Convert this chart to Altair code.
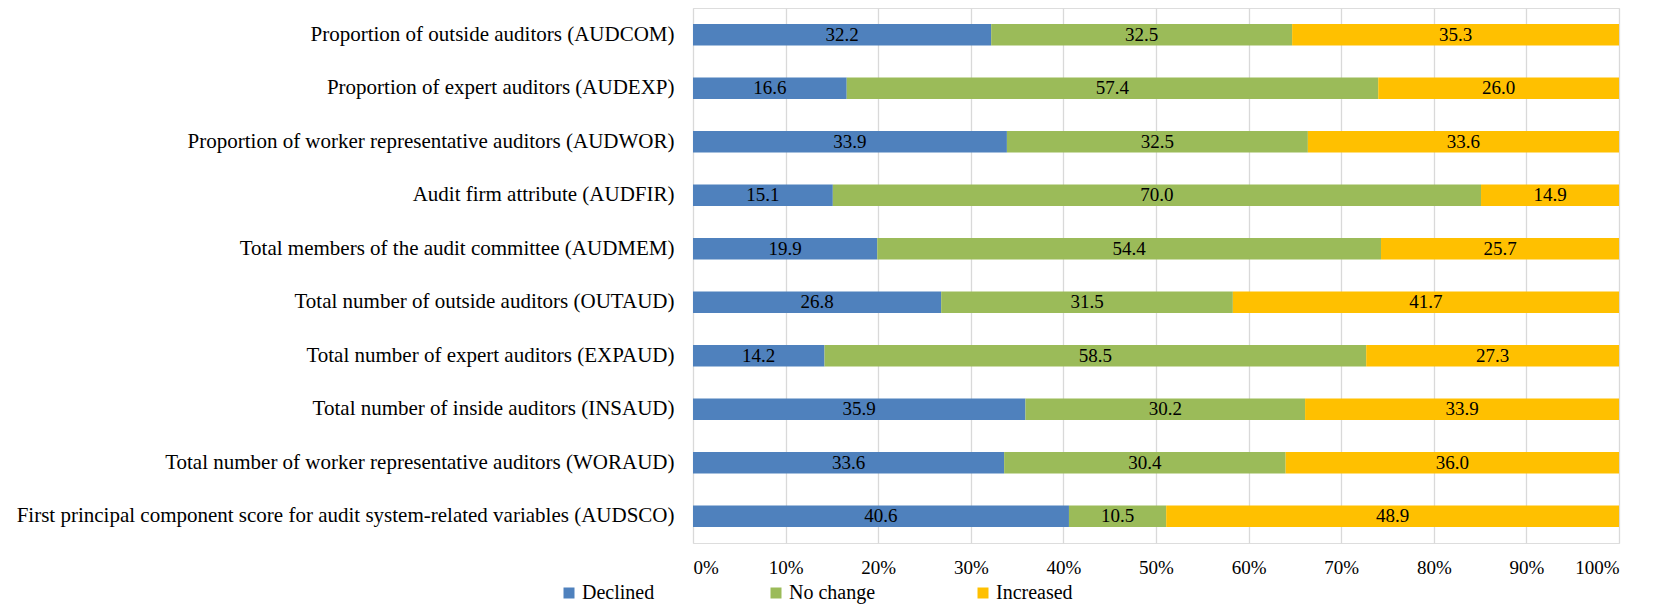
import altair as alt
import pandas as pd

categories = [
    "Proportion of outside auditors (AUDCOM)",
    "Proportion of expert auditors (AUDEXP)",
    "Proportion of worker representative auditors (AUDWOR)",
    "Audit firm attribute (AUDFIR)",
    "Total members of the audit committee (AUDMEM)",
    "Total number of outside auditors (OUTAUD)",
    "Total number of expert auditors (EXPAUD)",
    "Total number of inside auditors (INSAUD)",
    "Total number of worker representative auditors (WORAUD)",
    "First principal component score for audit system-related variables (AUDSCO)",
]
declined = [32.2, 16.6, 33.9, 15.1, 19.9, 26.8, 14.2, 35.9, 33.6, 40.6]
no_change = [32.5, 57.4, 32.5, 70.0, 54.4, 31.5, 58.5, 30.2, 30.4, 10.5]
increased = [35.3, 26.0, 33.6, 14.9, 25.7, 41.7, 27.3, 33.9, 36.0, 48.9]
series = ["Declined", "No change", "Increased"]
colors = ["#4f81bd", "#9bbb59", "#ffc000"]
x_ticks = [0, 10, 20, 30, 40, 50, 60, 70, 80, 90, 100]

rows = []
for i, c in enumerate(categories):
    for j, (s, vals) in enumerate(zip(series, [declined, no_change, increased])):
        rows.append({"category": c, "series": s, "order": j, "value": vals[i]})
df = pd.DataFrame(rows)

FONT = "Liberation Serif"

base = alt.Chart(df).transform_stack(
    stack="value",
    groupby=["category"],
    as_=["x0", "x1"],
    sort=[alt.SortField("order", order="ascending")],
).transform_calculate(mid="(datum.x0 + datum.x1) / 2")

y_enc = alt.Y(
    "category:N",
    sort=categories,
    title=None,
    scale=alt.Scale(paddingInner=0.6, paddingOuter=0.3),
    axis=alt.Axis(
        domain=False, ticks=False, labelFontSize=21, labelFont=FONT,
        labelColor="black", labelLimit=1000, labelPadding=19, grid=False,
    ),
)

bars = base.mark_bar().encode(
    y=y_enc,
    x=alt.X(
        "x0:Q",
        title=None,
        scale=alt.Scale(domain=[0, 100], nice=False),
        axis=alt.Axis(
            values=x_ticks, labelExpr="datum.value + '%'", domain=False, ticks=False,
            grid=True, gridColor="#d9d9d9", gridWidth=1.3, labelFontSize=19,
            labelFont=FONT, labelColor="black", labelPadding=15,
        ),
    ),
    x2="x1:Q",
    color=alt.Color(
        "series:N",
        sort=series,
        scale=alt.Scale(domain=series, range=colors),
        legend=alt.Legend(
            title=None, orient="none", legendX=-134, legendY=575, direction="horizontal",
            columns=3, gridAlign="all", columnPadding=97, symbolType="square",
            symbolSize=121, symbolStrokeWidth=0, labelFontSize=20, labelFont=FONT,
            labelColor="black", labelOffset=3,
        ),
    ),
    order=alt.Order("order:Q"),
)

labels = base.mark_text(fontSize=19, font=FONT, color="black").encode(
    y=alt.Y("category:N", sort=categories),
    x=alt.X("mid:Q"),
    text=alt.Text("value:Q", format=".1f"),
)

chart = (
    alt.layer(bars, labels)
    .properties(
        width=926,
        height=535,
        autosize=alt.AutoSizeParams(type="none"),
        padding={"left": 685, "top": 0, "right": 30, "bottom": 62},
    )
    .configure_view(stroke=None)
    .configure(background="white")
)

chart.save("out.html", embed_options={"renderer": "svg", "actions": False})
